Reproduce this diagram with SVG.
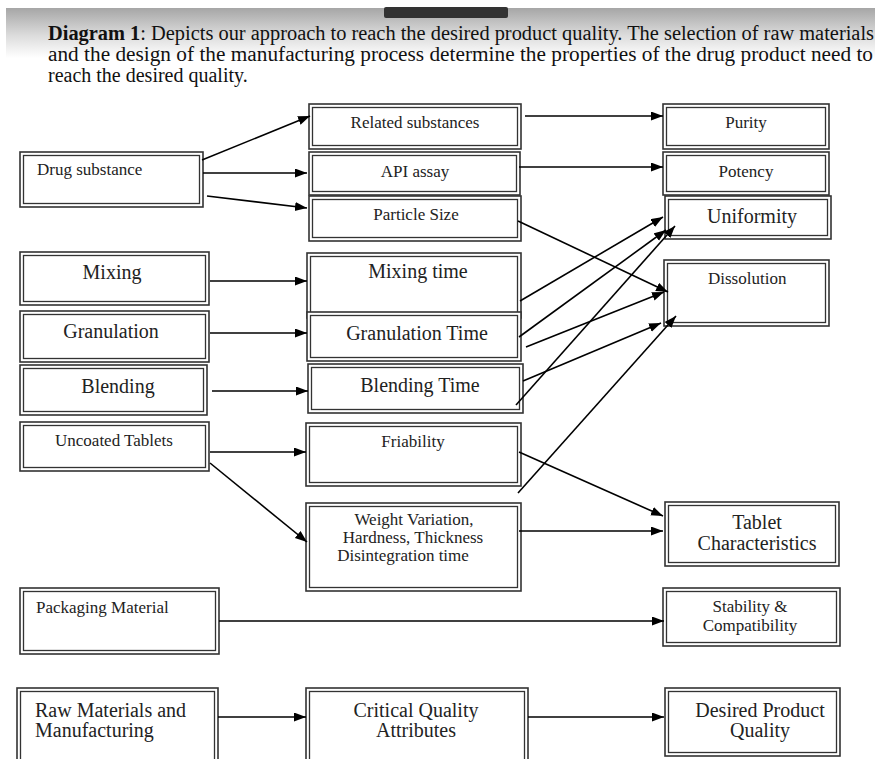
<svg xmlns="http://www.w3.org/2000/svg" width="875" height="759" viewBox="0 0 875 759">
<defs>
<linearGradient id="band" x1="0" y1="0" x2="0" y2="1">
<stop offset="0" stop-color="#a6a6a6"/>
<stop offset="0.55" stop-color="#dcdcdc"/>
<stop offset="1" stop-color="#ffffff"/>
</linearGradient>
<marker id="ah" markerUnits="userSpaceOnUse" markerWidth="13" markerHeight="10" refX="12" refY="4.5" orient="auto">
<path d="M0,0 L12,4.5 L0,9 z" fill="#000"/>
</marker>
</defs>
<style>
.o{fill:#fff;stroke:#333;stroke-width:1.6}
.i{fill:none;stroke:#333;stroke-width:1.3}
.s{font-family:"Liberation Serif","Times New Roman",serif;font-size:17px;fill:#222}
.b{font-family:"Liberation Serif","Times New Roman",serif;font-size:20px;fill:#222}
.h{font-family:"Liberation Serif","Times New Roman",serif;font-size:20px;fill:#111}
.c{text-anchor:middle}
#connectors line{stroke:#000;stroke-width:1.6;marker-end:url(#ah)}
</style>
<rect width="875" height="759" fill="#fff"/>
<g id="header">
<rect x="6" y="8" width="869" height="50" fill="url(#band)"/>
<rect x="384" y="7" width="124" height="11" rx="2" fill="#333"/>
<text class="h" x="48" y="40" textLength="826" lengthAdjust="spacingAndGlyphs"><tspan font-weight="bold">Diagram 1</tspan>: Depicts our approach to reach the desired product quality. The selection of raw materials</text>
<text class="h" x="48" y="61" textLength="825" lengthAdjust="spacingAndGlyphs">and the design of the manufacturing process determine the properties of the drug product need to</text>
<text class="h" x="48" y="82">reach the desired quality.</text>
</g>
<g id="drug"><rect class="o" x="20" y="152" width="183" height="55"/><rect class="i" x="23.5" y="155.5" width="176" height="48"/><text class="s" x="37" y="175">Drug substance</text></g>
<g id="related"><rect class="o" x="309" y="104" width="212" height="45"/><rect class="i" x="312.5" y="107.5" width="205" height="38"/><text class="s c" x="415" y="128">Related substances</text></g>
<g id="api"><rect class="o" x="309" y="152" width="211" height="43"/><rect class="i" x="312.5" y="155.5" width="204" height="36"/><text class="s c" x="415" y="177">API assay</text></g>
<g id="particle"><rect class="o" x="309" y="196" width="212" height="45"/><rect class="i" x="312.5" y="199.5" width="205" height="38"/><text class="s c" x="416" y="220">Particle Size</text></g>
<g id="purity"><rect class="o" x="663" y="104" width="166" height="45"/><rect class="i" x="666.5" y="107.5" width="159" height="38"/><text class="s c" x="746" y="128">Purity</text></g>
<g id="potency"><rect class="o" x="663" y="152" width="166" height="43"/><rect class="i" x="666.5" y="155.5" width="159" height="36"/><text class="s c" x="746" y="177">Potency</text></g>
<g id="uniformity"><rect class="o" x="665" y="196" width="166" height="43" stroke-width="2"/><rect class="i" x="668.5" y="199.5" width="159" height="36"/><text class="b c" x="752" y="223">Uniformity</text></g>
<g id="dissolution"><rect class="o" x="664" y="260" width="165" height="66"/><rect class="i" x="667.5" y="263.5" width="158" height="59"/><text class="s" x="708" y="284">Dissolution</text></g>
<g id="mixing"><rect class="o" x="20" y="252" width="189" height="53"/><rect class="i" x="23.5" y="255.5" width="182" height="46"/><text class="b c" x="112" y="279">Mixing</text></g>
<g id="granulation"><rect class="o" x="20" y="311" width="189" height="51"/><rect class="i" x="23.5" y="314.5" width="182" height="44"/><text class="b c" x="111" y="338">Granulation</text></g>
<g id="blending"><rect class="o" x="20" y="365" width="187" height="50"/><rect class="i" x="23.5" y="368.5" width="180" height="43"/><text class="b c" x="118" y="393">Blending</text></g>
<g id="uncoated"><rect class="o" x="20" y="422" width="189" height="49"/><rect class="i" x="23.5" y="425.5" width="182" height="42"/><text class="s c" x="114" y="446">Uncoated Tablets</text></g>
<g id="mixingtime"><rect class="o" x="307" y="253" width="214" height="65"/><rect class="i" x="310.5" y="256.5" width="207" height="58"/><text class="b c" x="418" y="278">Mixing time</text></g>
<g id="granulationtime"><rect class="o" x="307" y="312" width="214" height="49" fill="none"/><rect class="i" x="310.5" y="315.5" width="207" height="42"/><text class="b c" x="417" y="340">Granulation Time</text></g>
<g id="blendingtime"><rect class="o" x="308" y="364" width="215" height="49"/><rect class="i" x="311.5" y="367.5" width="208" height="42"/><text class="b c" x="420" y="392">Blending Time</text></g>
<g id="friability"><rect class="o" x="306" y="423" width="215" height="63"/><rect class="i" x="309.5" y="426.5" width="208" height="56"/><text class="s c" x="413" y="447">Friability</text></g>
<g id="weight"><rect class="o" x="306" y="503" width="215" height="88"/><rect class="i" x="309.5" y="506.5" width="208" height="81"/><text class="s c" x="414" y="525">Weight Variation,</text><text class="s c" x="413" y="543">Hardness, Thickness</text><text class="s c" x="403" y="561">Disintegration time</text></g>
<g id="tablet"><rect class="o" x="665" y="502" width="174" height="64"/><rect class="i" x="668.5" y="505.5" width="167" height="57"/><text class="b c" x="757" y="529">Tablet</text><text class="b c" x="757" y="550">Characteristics</text></g>
<g id="stability"><rect class="o" x="663" y="588" width="177" height="58"/><rect class="i" x="666.5" y="591.5" width="170" height="51"/><text class="s c" x="750" y="612">Stability &amp;</text><text class="s c" x="750" y="631">Compatibility</text></g>
<g id="packaging"><rect class="o" x="20" y="588" width="199" height="66"/><rect class="i" x="23.5" y="591.5" width="192" height="59"/><text class="s" x="36" y="613">Packaging Material</text></g>
<g id="raw"><rect class="o" x="17" y="688" width="201" height="78"/><rect class="i" x="20.5" y="691.5" width="194" height="71"/><text class="b" x="35" y="717">Raw Materials and</text><text class="b" x="35" y="737">Manufacturing</text></g>
<g id="cqa"><rect class="o" x="306" y="688" width="222" height="78"/><rect class="i" x="309.5" y="691.5" width="215" height="71"/><text class="b c" x="416" y="717">Critical Quality</text><text class="b c" x="416" y="737">Attributes</text></g>
<g id="desired"><rect class="o" x="665" y="688" width="175" height="68"/><rect class="i" x="668.5" y="691.5" width="168" height="61"/><text class="b c" x="760" y="717">Desired Product</text><text class="b c" x="760" y="737">Quality</text></g>
<g id="connectors">
<line x1="202" y1="160" x2="310" y2="116"/>
<line x1="203" y1="173" x2="307" y2="173"/>
<line x1="207" y1="196" x2="307" y2="208"/>
<line x1="525" y1="116" x2="663" y2="116"/>
<line x1="519" y1="167" x2="663" y2="167"/>
<line x1="518" y1="221" x2="668" y2="292"/>
<line x1="210" y1="281" x2="307" y2="281"/>
<line x1="210" y1="333" x2="307" y2="333"/>
<line x1="212" y1="391" x2="308" y2="391"/>
<line x1="210" y1="452" x2="306" y2="452"/>
<line x1="210" y1="463" x2="307" y2="542"/>
<line x1="519" y1="452" x2="663" y2="516"/>
<line x1="519" y1="531" x2="663" y2="531"/>
<line x1="219" y1="621" x2="664" y2="621"/>
<line x1="218" y1="717" x2="306" y2="717"/>
<line x1="528" y1="717" x2="664" y2="717"/>
<line x1="520" y1="301" x2="663" y2="217"/>
<line x1="519" y1="337" x2="666" y2="230"/>
<line x1="516" y1="405" x2="675" y2="226"/>
<line x1="526" y1="347" x2="664" y2="292"/>
<line x1="523" y1="381" x2="661" y2="323"/>
<line x1="518" y1="493" x2="676" y2="316"/>
</g>
</svg>
